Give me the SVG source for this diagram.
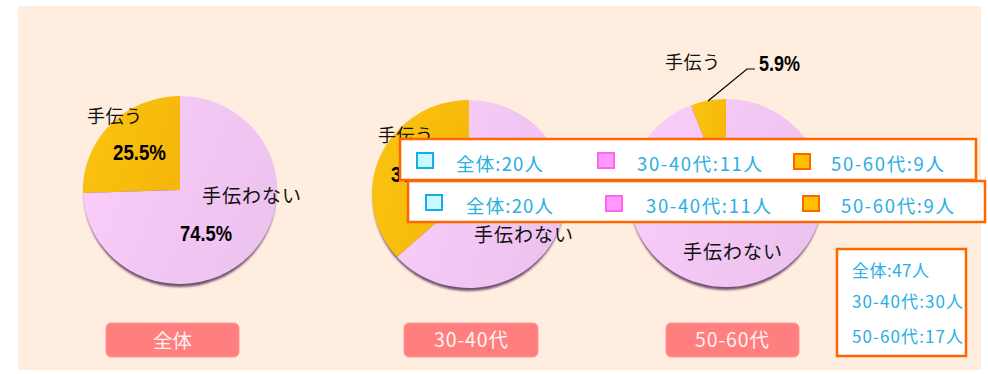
<svg xmlns="http://www.w3.org/2000/svg" width="988" height="374" viewBox="0 0 988 374">
<defs>
<linearGradient id="gPink" x1="0" y1="0.3" x2="1" y2="0.7">
<stop offset="0" stop-color="#FACCFA"/>
<stop offset="1" stop-color="#ECC2EE"/>
</linearGradient>
<linearGradient id="gOrange" x1="0" y1="0.3" x2="1" y2="0.7">
<stop offset="0" stop-color="#FAC310"/>
<stop offset="1" stop-color="#F5B70A"/>
</linearGradient>
<filter id="blur" x="-10%" y="-10%" width="120%" height="120%"><feGaussianBlur stdDeviation="0.8"/></filter>
</defs>
<style>
.bg{fill:#FFEEDF}
.shadow{fill:#6E4E6E;filter:url(#blur)}
.pink{fill:url(#gPink)}
.orange{fill:url(#gOrange)}
.jp{font-family:"Noto Sans CJK JP","Noto Sans",sans-serif;fill:#111}
.pct{font-family:"Liberation Sans",Arial,sans-serif;font-weight:bold;fill:#000;font-size:22px}
.box{fill:#FFFFFF;stroke:#FF6600;stroke-width:2.5}
.leg{font-family:"Noto Sans CJK JP","Noto Sans",sans-serif;fill:#2AAEE4;font-size:18.5px}
.stat{font-family:"Noto Sans CJK JP","Noto Sans",sans-serif;fill:#2AAEE4;font-size:17px}
.sqC{fill:#CCF8FF;stroke:#12AEEA;stroke-width:2}
.sqM{fill:#FF99FF;stroke:#FF66EE;stroke-width:2}
.sqO{fill:#FFC000;stroke:#FF6600;stroke-width:2}
.cat{fill:#FF7F7F;stroke:#FF9A9A;stroke-width:1}
.catT{font-family:"Noto Sans CJK JP","Noto Sans",sans-serif;fill:#FFF2F2;font-size:19.5px}
.lead{fill:none;stroke:#000;stroke-width:1.2}
</style>
<rect class="bg" x="18" y="6" width="963" height="364"/>

<g id="pie-all">
<ellipse class="shadow" cx="180" cy="193" rx="96" ry="94"/>
<path class="orange" d="M180,190 L180,96 A97,94 0 0,0 83.05,192.95 Z"/>
<path class="pink" d="M180,190 L83.05,192.95 A97,94 0 1,0 180,96 Z"/>
<text class="jp" x="87" y="123" font-size="18" textLength="55">手伝う</text>
<text class="pct" x="113" y="160" textLength="53" lengthAdjust="spacingAndGlyphs">25.5%</text>
<text class="jp" x="202" y="203" font-size="19" textLength="99">手伝わない</text>
<text class="pct" x="180" y="241" textLength="52" lengthAdjust="spacingAndGlyphs">74.5%</text>
</g>

<g id="pie-3040">
<ellipse class="shadow" cx="469" cy="197" rx="96" ry="94"/>
<path class="orange" d="M469,194 L469,100 A97,94 0 0,0 397,257 Z"/>
<path class="pink" d="M469,194 L397,257 A97,94 0 1,0 469,100 Z"/>
<text class="jp" x="378" y="142" font-size="18" textLength="55">手伝う</text>
<text class="pct" x="391" y="182" textLength="53" lengthAdjust="spacingAndGlyphs">36.7%</text>
<text class="jp" x="474" y="242" font-size="19" textLength="99">手伝わない</text>
</g>

<g id="pie-5060">
<ellipse class="shadow" cx="726" cy="196" rx="96" ry="94"/>
<path class="orange" d="M726,193 L726,99 A97,94 0 0,0 690.9,105.4 Z"/>
<path class="pink" d="M726,193 L690.9,105.4 A97,94 0 1,0 726,99 Z"/>
<text class="jp" x="665" y="69" font-size="18" textLength="55">手伝う</text>
<text class="pct" x="759" y="71" textLength="41" lengthAdjust="spacingAndGlyphs">5.9%</text>
<text class="jp" x="683" y="259" font-size="19" textLength="99">手伝わない</text>
</g>

<g id="connectors">
<polyline class="lead" points="708,101 747,69 755,69"/>
</g>

<g id="legend-1">
<rect class="box" x="400" y="139" width="576" height="41"/>
<rect class="sqC" x="417" y="153" width="16" height="15"/>
<text class="leg" x="456" y="171" textLength="87">全体:20人</text>
<rect class="sqM" x="598" y="153" width="16" height="15"/>
<text class="leg" x="637" y="171" textLength="125">30-40代:11人</text>
<rect class="sqO" x="794" y="154" width="16" height="15"/>
<text class="leg" x="831" y="171" textLength="113">50-60代:9人</text>
</g>

<g id="legend-2">
<rect class="box" x="408" y="181" width="577" height="41"/>
<rect class="sqC" x="426" y="195" width="16" height="15"/>
<text class="leg" x="466" y="213" textLength="87">全体:20人</text>
<rect class="sqM" x="606" y="196" width="16" height="15"/>
<text class="leg" x="646" y="213" textLength="125">30-40代:11人</text>
<rect class="sqO" x="803" y="196" width="16" height="15"/>
<text class="leg" x="841" y="213" textLength="113">50-60代:9人</text>
</g>

<g id="stats">
<rect class="box" x="837" y="249" width="129" height="107" stroke-width="2"/>
<text class="stat" x="852" y="277" textLength="77">全体:47人</text>
<text class="stat" x="852" y="308" textLength="111">30-40代:30人</text>
<text class="stat" x="852" y="343" textLength="111">50-60代:17人</text>
</g>

<g id="label-all">
<rect class="cat" x="106" y="323" width="133" height="34" rx="5"/>
<text class="catT" x="172.5" y="348" text-anchor="middle">全体</text>
</g>
<g id="label-3040">
<rect class="cat" x="404" y="323" width="134" height="34" rx="5"/>
<text class="catT" x="471" y="347" text-anchor="middle" textLength="74">30-40代</text>
</g>
<g id="label-5060">
<rect class="cat" x="666" y="323" width="133" height="34" rx="5"/>
<text class="catT" x="732" y="347" text-anchor="middle" textLength="74">50-60代</text>
</g>
</svg>
